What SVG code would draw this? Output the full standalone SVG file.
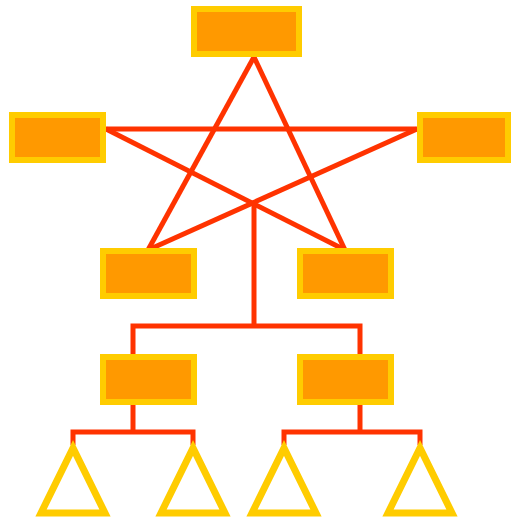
<svg xmlns="http://www.w3.org/2000/svg" width="512" height="519" viewBox="0 0 512 519">
<style>
.box{fill:#FF9900;stroke:#FFCC00;stroke-width:6}
.tri{fill:#FFFFFF;stroke:#FFCC00;stroke-width:7}
.c{fill:none;stroke:#FF3300;stroke-width:5}
</style>
<rect width="512" height="519" fill="#FFFFFF"/>
<g id="connectors">
<line class="c" x1="254" y1="57" x2="148" y2="250"/>
<line class="c" x1="254" y1="57" x2="345" y2="250"/>
<line class="c" x1="106" y1="129" x2="417" y2="129"/>
<line class="c" x1="106" y1="129" x2="345" y2="250"/>
<line class="c" x1="417" y1="129" x2="148" y2="250"/>
<polyline class="c" points="254,203 254,326"/>
<polyline class="c" points="133,354 133,326 360,326 360,354"/>
<polyline class="c" points="133,405 133,432"/>
<polyline class="c" points="73,445 73,432 193,432 193,445"/>
<polyline class="c" points="360,405 360,432"/>
<polyline class="c" points="284,445 284,432 420,432 420,445"/>
</g>
<g id="n1"><rect class="box" x="194" y="9" width="105" height="45"/></g>
<g id="n2"><rect class="box" x="12" y="115" width="91" height="45"/></g>
<g id="n3"><rect class="box" x="420" y="115" width="88" height="45"/></g>
<g id="n4"><rect class="box" x="103" y="251" width="91" height="45"/></g>
<g id="n5"><rect class="box" x="300" y="251" width="91" height="45"/></g>
<g id="n6"><rect class="box" x="103" y="357" width="91" height="45"/></g>
<g id="n7"><rect class="box" x="300" y="357" width="91" height="45"/></g>
<g id="t1"><polygon class="tri" points="73,448 41,513 105,513"/></g>
<g id="t2"><polygon class="tri" points="193,448 161,513 225,513"/></g>
<g id="t3"><polygon class="tri" points="284,448 252,513 316,513"/></g>
<g id="t4"><polygon class="tri" points="420,448 388,513 452,513"/></g>
</svg>
